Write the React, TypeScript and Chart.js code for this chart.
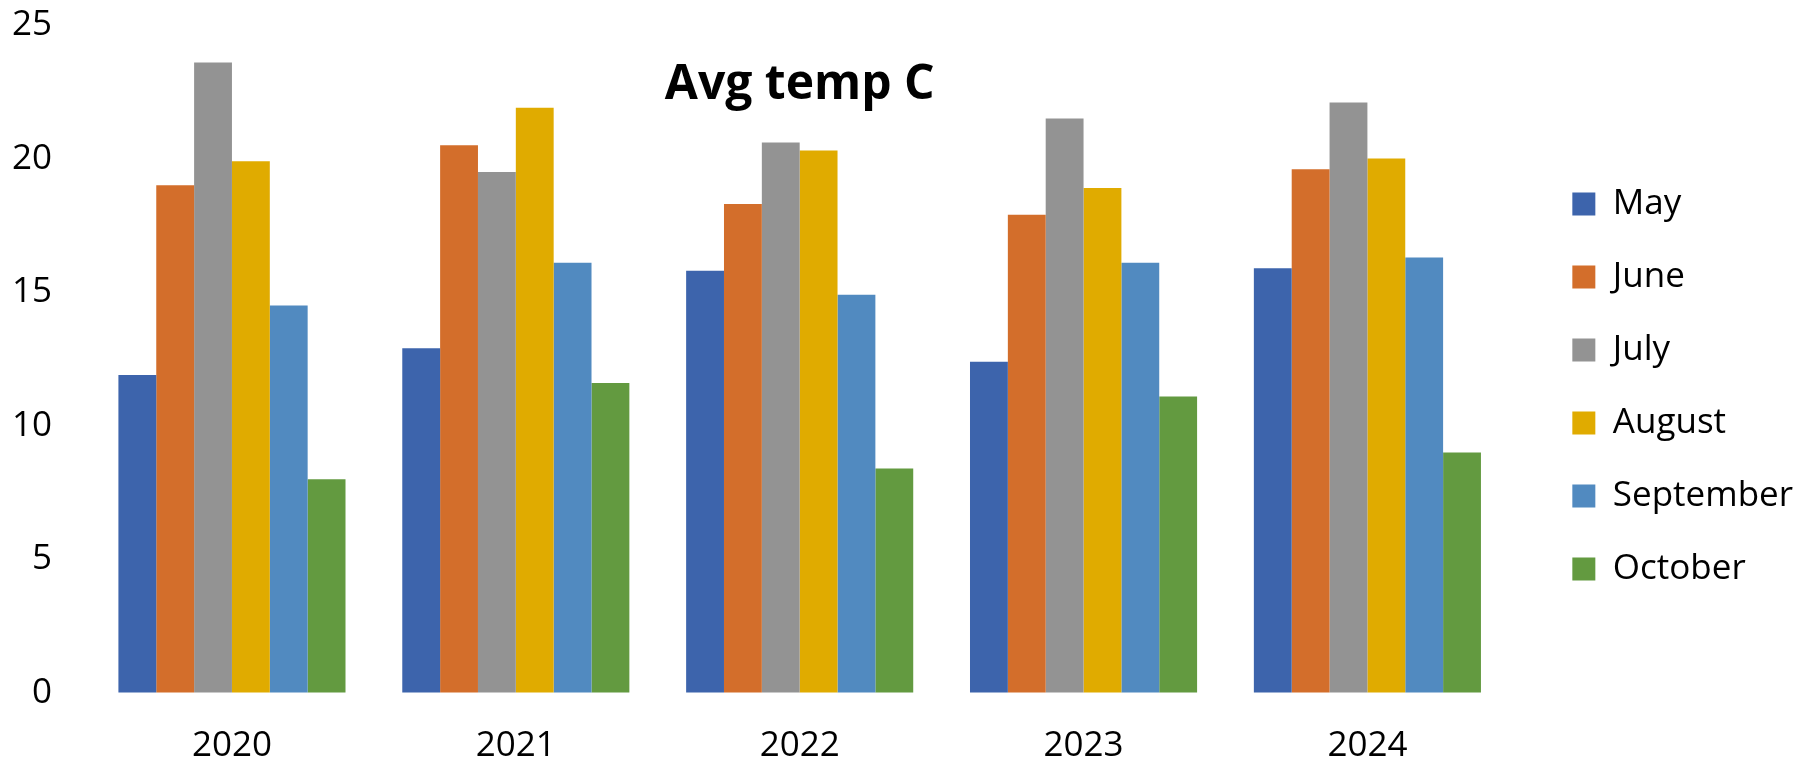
import React, { useRef, useEffect } from 'react';
import { Chart, registerables } from 'chart.js';

Chart.register(...registerables);

const years = ['2020', '2021', '2022', '2023', '2024'];
const months = ['May', 'June', 'July', 'August', 'September', 'October'];

const mayTemps = [11.9, 12.9, 15.8, 12.4, 15.9];
const juneTemps = [19.0, 20.5, 18.3, 17.9, 19.6];
const julyTemps = [23.6, 19.5, 20.6, 21.5, 22.1];
const augustTemps = [19.9, 21.9, 20.3, 18.9, 20.0];
const septemberTemps = [14.5, 16.1, 14.9, 16.1, 16.3];
const octoberTemps = [8.0, 11.6, 8.4, 11.1, 9.0];

const monthColors = ['#3D64AC', '#D36E2B', '#939393', '#E0AB00', '#518AC0', '#639A40'];
const yTicks = [0, 5, 10, 15, 20, 25];
const chartTitle = 'Avg temp C';

const FONT = '"Open Sans", "Noto Sans", sans-serif';

// title sits inside the plot area, like in Excel
const titlePlugin = {
  id: 'insideTitle',
  afterDraw(chart: Chart) {
    const { ctx, chartArea } = chart;
    ctx.save();
    ctx.font = `bold 48px ${FONT}`;
    ctx.fillStyle = '#000000';
    ctx.textAlign = 'center';
    ctx.textBaseline = 'alphabetic';
    ctx.fillText(chartTitle, (chartArea.left + chartArea.right) / 2, chartArea.top + 74);
    ctx.restore();
  }
};

// push the legend a bit to the right, away from the bars
const legendShift = {
  id: 'legendShift',
  afterLayout(chart: Chart) {
    const lg: any = (chart as any).legend;
    if (!lg) return;
    lg.left += 25;
    lg.right += 25;
    lg.top -= 1;
    lg.bottom -= 1;
  }
};

const App: React.FC = () => {
  const chartRef = useRef<HTMLCanvasElement>(null);
  const chartInstance = useRef<Chart | null>(null);

  useEffect(() => {
    document.body.style.margin = '0';
    if (!chartRef.current) return;
    if (chartInstance.current) chartInstance.current.destroy();

    const ctx = chartRef.current.getContext('2d');
    if (!ctx) return;

    const series = [mayTemps, juneTemps, julyTemps, augustTemps, septemberTemps, octoberTemps];

    chartInstance.current = new Chart(ctx, {
      type: 'bar',
      data: {
        labels: years,
        datasets: months.map((m, i) => ({
          label: m,
          data: series[i],
          backgroundColor: monthColors[i],
          borderWidth: 0,
          barPercentage: 1.0,
          categoryPercentage: 0.8
        }))
      },
      options: {
        responsive: false,
        animation: false,
        layout: {
          padding: { top: 8, left: 8, right: 33, bottom: 0 }
        },
        font: { family: FONT },
        plugins: {
          title: { display: false },
          tooltip: { enabled: false },
          legend: {
            position: 'right',
            labels: {
              color: '#000000',
              font: { family: FONT, size: 35 },
              boxWidth: 23,
              boxHeight: 23,
              padding: 38
            }
          }
        },
        scales: {
          x: {
            grid: {
              display: true,
              drawOnChartArea: false,
              drawTicks: true,
              tickLength: 32,
              tickColor: 'rgba(0,0,0,0)'
            },
            border: { display: false },
            ticks: {
              color: '#000000',
              font: { family: FONT, size: 35 },
              padding: 0,
              maxRotation: 0
            }
          },
          y: {
            min: 0,
            max: 25,
            afterBuildTicks: (scale: any) => {
              scale.ticks = yTicks.map(v => ({ value: v }));
            },
            grid: {
              display: true,
              drawOnChartArea: false,
              drawTicks: true,
              tickLength: 34,
              tickColor: 'rgba(0,0,0,0)'
            },
            border: { display: false },
            ticks: {
              color: '#000000',
              font: { family: FONT, size: 35 },
              padding: 4
            }
          }
        }
      },
      plugins: [titlePlugin, legendShift]
    });

    return () => {
      if (chartInstance.current) {
        chartInstance.current.destroy();
        chartInstance.current = null;
      }
    };
  }, []);

  return (
    <div style={{ width: '1811px', height: '767px', background: '#ffffff' }}>
      <canvas ref={chartRef} width={1811} height={767} />
    </div>
  );
};

export default App;
